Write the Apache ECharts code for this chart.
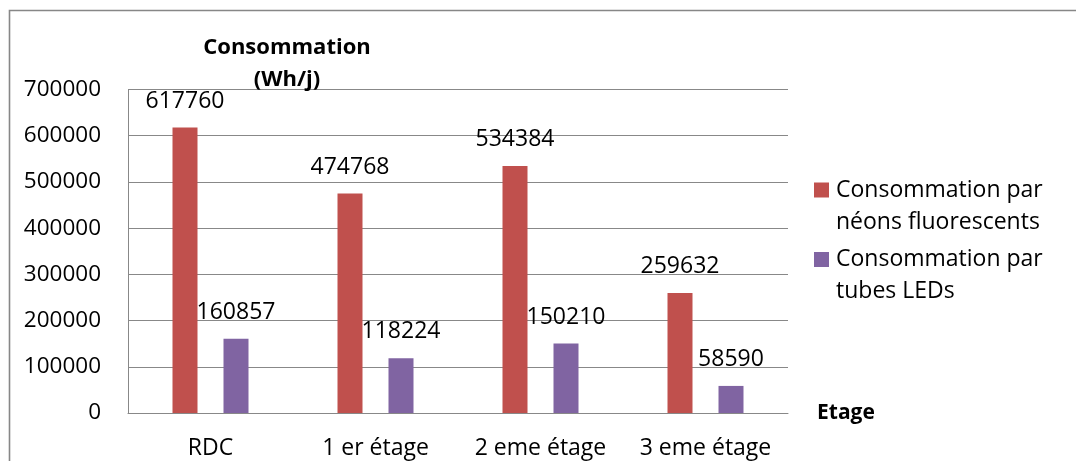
<!DOCTYPE html>
<html>
<head>
<meta charset="utf-8">
<script src="https://cdn.jsdelivr.net/npm/echarts@6/dist/echarts.min.js"></script>
<style>
  html, body { margin: 0; padding: 0; background: #fff; }
  #chart { width: 1076px; height: 461px; }
</style>
</head>
<body>
<div id="chart"></div>
<script>
// Floors of the building
const categories = ['RDC', '1 er étage', '2 eme étage', '3 eme étage'];
// Daily consumption (Wh/j)
const neonValues = [617760, 474768, 534384, 259632];
const ledValues = [160857, 118224, 150210, 58590];
const seriesNames = ['Consommation par\nnéons fluorescents', 'Consommation par\ntubes LEDs'];
const yTicks = { min: 0, max: 700000, interval: 100000 };

const FONT = '"Open Sans", "DejaVu Sans", sans-serif';
const GRID_COLOR = '#888888';

const chart = echarts.init(document.getElementById('chart'), null, { renderer: 'canvas' });

const labelStyle = {
  show: true,
  position: 'top',
  distance: 15,
  color: '#000',
  fontFamily: FONT,
  fontSize: 23,
  lineHeight: 23
};

chart.setOption({
  animation: false,
  backgroundColor: '#fff',
  title: {
    text: 'Consommation\n(Wh/j)',
    left: 287,
    top: 32,
    textAlign: 'center',
    padding: 0,
    textStyle: {
      fontFamily: FONT,
      fontWeight: 'bold',
      fontSize: 22,
      lineHeight: 32,
      color: '#000'
    }
  },
  legend: {
    orient: 'vertical',
    left: 814,
    top: 140.5,
    padding: 0,
    itemGap: -29.5,
    itemWidth: 15,
    itemHeight: 15,
    icon: 'rect',
    selectedMode: false,
    // blank leading line so the first line of each entry sits beside its swatch
    formatter: function (name) { return '\n' + name; },
    textStyle: {
      fontFamily: FONT,
      fontSize: 23,
      lineHeight: 32,
      color: '#000',
      padding: [3, 0, 0, 2]
    },
    data: seriesNames
  },
  grid: {
    left: 128,
    right: 288,
    top: 89.5,
    bottom: 48,
    containLabel: false,
    outerBoundsMode: 'none'
  },
  xAxis: {
    type: 'category',
    data: categories,
    name: 'Etage',
    nameLocation: 'end',
    nameGap: 29,
    nameTextStyle: {
      fontFamily: FONT,
      fontWeight: 'bold',
      fontSize: 21,
      color: '#000',
      padding: [0, 0, 9, 0]
    },
    axisLine: { show: true, lineStyle: { color: GRID_COLOR, width: 1 } },
    axisTick: { show: false },
    axisLabel: {
      color: '#000',
      fontFamily: FONT,
      fontSize: 23,
      lineHeight: 32,
      margin: 19,
      interval: 0
    },
    splitLine: { show: false }
  },
  yAxis: {
    type: 'value',
    min: yTicks.min,
    max: yTicks.max,
    interval: yTicks.interval,
    axisLine: { show: true, lineStyle: { color: GRID_COLOR, width: 1 } },
    axisTick: { show: false },
    axisLabel: {
      color: '#000',
      fontFamily: FONT,
      fontSize: 22.5,
      margin: 27,
      formatter: function (v) { return String(v); }
    },
    splitLine: { show: true, lineStyle: { color: GRID_COLOR, width: 1 } }
  },
  series: [
    {
      name: seriesNames[0],
      type: 'bar',
      data: neonValues,
      barWidth: 25,
      barGap: '104%',
      itemStyle: { color: '#C0504D' },
      label: labelStyle
    },
    {
      name: seriesNames[1],
      type: 'bar',
      data: ledValues,
      barWidth: 25,
      barGap: '104%',
      itemStyle: { color: '#8064A2' },
      label: labelStyle
    }
  ],
  graphic: [
    {
      type: 'rect',
      silent: true,
      z: -10,
      shape: { x: 9.5, y: 10.5, width: 1300, height: 700 },
      style: { fill: null, stroke: '#878787', lineWidth: 1.6 }
    }
  ]
});
</script>
</body>
</html>
